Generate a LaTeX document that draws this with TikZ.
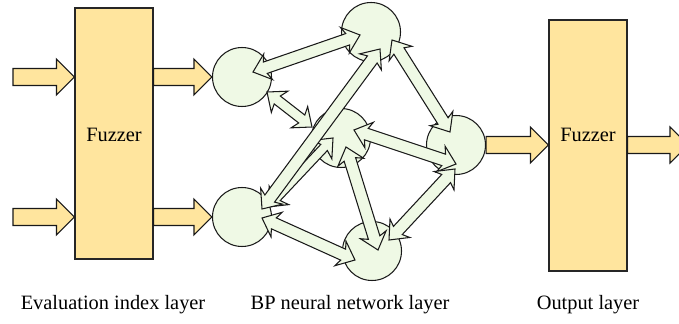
\documentclass[tikz,border=0pt]{standalone}
\usepackage{fontspec}
\setmainfont{Liberation Serif}
\usepackage{xcolor}
\usepackage{tikz}
\usetikzlibrary{calc}

\definecolor{fuzzfill}{RGB}{255,229,158}
\definecolor{nodefill}{RGB}{239,249,229}

\newcommand{\headlen}{0.32cm}
\newcommand{\headjoin}{0.26cm}
\newcommand{\headwid}{0.27cm}

\newcommand{\biarrow}[3][0.12cm]{%
    \path (#2) coordinate (p) (#3) coordinate (q);
    \draw[link] (p)
        -- ($(p)!\headlen!(q)!\headwid!-90:(q)$)
        -- ($(p)!\headjoin!(q)!#1!-90:(q)$)
        -- ($(q)!\headjoin!(p)!#1!90:(p)$)
        -- ($(q)!\headlen!(p)!\headwid!90:(p)$)
        -- (q)
        -- ($(q)!\headlen!(p)!\headwid!-90:(p)$)
        -- ($(q)!\headjoin!(p)!#1!-90:(p)$)
        -- ($(p)!\headjoin!(q)!#1!90:(q)$)
        -- ($(p)!\headlen!(q)!\headwid!90:(q)$)
        -- cycle;}

\newcommand{\feedarrow}[2]{%
    \path (#1) coordinate (p) (#2) coordinate (q);
    \draw[feed] ($(p)!0.17cm!90:(q)$)
        -- ($(q)!0.36cm!(p)!0.17cm!-90:(p)$)
        -- ($(q)!0.36cm!(p)!0.36cm!-90:(p)$)
        -- (q)
        -- ($(q)!0.36cm!(p)!0.36cm!90:(p)$)
        -- ($(q)!0.36cm!(p)!0.17cm!90:(p)$)
        -- ($(p)!0.17cm!-90:(q)$)
        -- cycle;}

\begin{document}
\begin{tikzpicture}[x=0.02cm, y=-0.02cm,
        fuzzbox/.style={draw=black!85, fill=fuzzfill, line width=0.6pt,
            minimum width=1.56cm, minimum height=5.02cm, inner sep=0pt},
        neuron/.style={circle, draw=black!90, fill=nodefill, line width=0.6pt,
            minimum size=1.18cm, inner sep=0pt},
        link/.style={draw=black!90, fill=nodefill, line width=0.6pt, line join=miter},
        feed/.style={draw=black!90, fill=fuzzfill, line width=0.6pt},
        caption/.style={font=\fontsize{11.6}{13}\selectfont}]
        \clip (0, 0) rectangle (679, 324);

        \node[fuzzbox, label={[caption, yshift=-0.02cm]center:Fuzzer}] (Fz1) at (114, 133.5) {};
        \node[fuzzbox, label={[caption, yshift=0.21cm]center:Fuzzer}] (Fz2) at (588, 145.5) {};

        \node[neuron] (L1) at (242, 77) {};
        \node[neuron] (L2) at (242, 217) {};
        \node[neuron] (H1) at (371, 32) {};
        \node[neuron] (H2) at (341, 138) {};
        \node[neuron] (H3) at (372, 251) {};
        \node[neuron] (O) at (456, 145) {};

        \coordinate (in1) at (13, 77);
        \coordinate (in2) at (13, 217);
        \coordinate (out) at (688, 145);

        \feedarrow{in1}{Fz1.west |- L1.center}
        \feedarrow{in2}{Fz1.west |- L2.center}
        \feedarrow{Fz1.east |- L1.center}{L1.west}
        \feedarrow{Fz1.east |- L2.center}{L2.west}
        \feedarrow{O.east}{Fz2.west |- O.center}
        \feedarrow{Fz2.east |- O.center}{out}

        \biarrow{[shift={(11,-5)}]L1.center}{[shift={(-11,3)}]H1.center}
        \biarrow[0.1cm]{[shift={(25,15)}]L1.center}{[shift={(-29,-11)}]H2.center}
        \biarrow[0.09cm]{[shift={(26,-10)}]L2.center}{[shift={(-8,0)}]H2.center}
        \biarrow{[shift={(20,-8)}]L2.center}{[shift={(9,17)}]H1.center}
        \biarrow{[shift={(20,1)}]L2.center}{[shift={(-17,9)}]H3.center}
        \biarrow{[shift={(21,8)}]H1.center}{[shift={(-6,-13)}]O.center}
        \biarrow{[shift={(13,-8)}]H2.center}{[shift={(0,19)}]O.center}
        \biarrow{[shift={(5,9)}]H2.center}{[shift={(6,-1)}]H3.center}
        \biarrow{[shift={(17,-11)}]H3.center}{[shift={(-1,24)}]O.center}

        \node[caption] (capA) at (113, 305) {Evaluation index layer};
        \node[caption] (capB) at (350, 305) {BP neural network layer};
        \node[caption] (capC) at (588, 305) {Output layer};
\end{tikzpicture}
\end{document}
